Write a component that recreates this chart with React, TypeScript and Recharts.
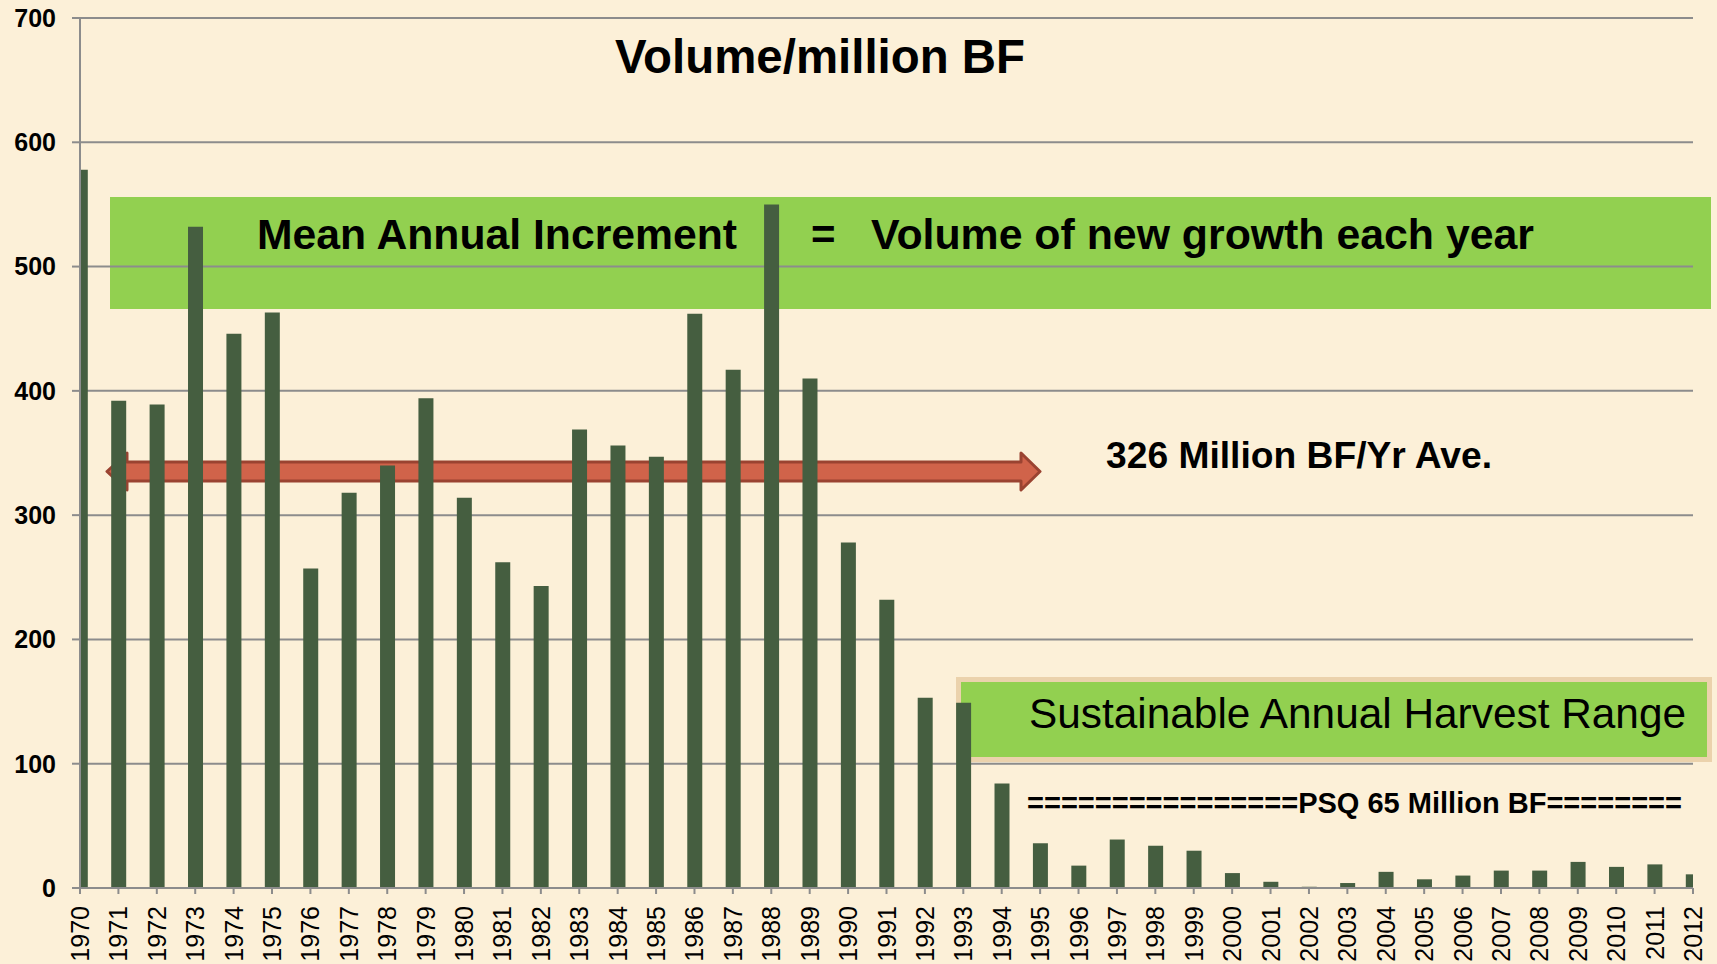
import React from "react";
import { BarChart, Bar, XAxis, YAxis, CartesianGrid } from "recharts";

const years = [
  1970, 1971, 1972, 1973, 1974, 1975, 1976, 1977, 1978, 1979, 1980, 1981,
  1982, 1983, 1984, 1985, 1986, 1987, 1988, 1989, 1990, 1991, 1992, 1993,
  1994, 1995, 1996, 1997, 1998, 1999, 2000, 2001, 2002, 2003, 2004, 2005,
  2006, 2007, 2008, 2009, 2010, 2011, 2012,
];

// volume cut per year, million BF
const volumes = [
  578, 392, 389, 532, 446, 463, 257, 318, 340, 394, 314, 262, 243, 369, 356,
  347, 462, 417, 550, 410, 278, 232, 153, 149, 84, 36, 18, 39, 34, 30, 12, 5,
  1, 4, 13, 7, 10, 14, 14, 21, 17, 19, 11,
];

const yTicks = [0, 100, 200, 300, 400, 500, 600, 700];

const title = "Volume/million BF";
const maiLeft = "Mean Annual Increment";
const maiRight = "Volume of new growth each year";
const aveLabel = "326 Million BF/Yr Ave.";
const harvestLabel = "Sustainable Annual Harvest Range";
const psqLabel = "================PSQ 65 Million BF========";

const data = years.map((year, i) => ({ year, volume: volumes[i] }));

const FONT = "'Liberation Sans', Arial, Helvetica, sans-serif";
const GRID = "#8c8c8c";
const BAR = "#455e40";
const GREEN = "#92d050";

const YearTick = (props: any) => {
  const { x, y, payload } = props;
  return (
    <text
      x={x}
      y={y}
      transform={`rotate(-90, ${x}, ${y})`}
      textAnchor="end"
      dy="0.36em"
      fontSize={25}
      fontFamily={FONT}
      fill="#000"
    >
      {payload.value}
    </text>
  );
};

export default function App() {
  return (
    <div
      style={{
        position: "absolute",
        left: 0,
        top: 0,
        width: 1717,
        height: 964,
        overflow: "hidden",
        background: "#fcf0d8",
        fontFamily: FONT,
      }}
    >
      {/* shapes behind the bars */}
      <svg
        width={1717}
        height={964}
        style={{ position: "absolute", left: 0, top: 0 }}
      >
        <rect x={110} y={197} width={1601} height={112} fill={GREEN} />
        <rect
          x={958.5}
          y={679.5}
          width={751}
          height={80}
          fill={GREEN}
          stroke="#ebd2ac"
          strokeWidth={5}
        />
        <polygon
          points="107,471.5 127,453 127,462 1021,462 1021,453 1040,471.5 1021,490 1021,481 127,481 127,490"
          fill="#d0634a"
          stroke="#9a4331"
          strokeWidth={3}
          strokeLinejoin="round"
        />
      </svg>

      <BarChart
        width={1717}
        height={964}
        data={data}
        margin={{ top: 18, right: 24, bottom: 0, left: 0 }}
        style={{ position: "absolute", left: 0, top: 0 }}
      >
        <CartesianGrid vertical={false} stroke={GRID} strokeWidth={2} />
        <XAxis
          dataKey="year"
          type="number"
          domain={[1970, 2012]}
          ticks={years}
          interval={0}
          allowDataOverflow
          height={76}
          tickSize={6}
          tickMargin={12}
          axisLine={{ stroke: GRID, strokeWidth: 2 }}
          tickLine={{ stroke: GRID, strokeWidth: 2 }}
          tick={<YearTick />}
        />
        <YAxis
          domain={[0, 700]}
          ticks={yTicks}
          interval={0}
          width={80}
          tickSize={8}
          tickMargin={16}
          axisLine={{ stroke: GRID, strokeWidth: 2 }}
          tickLine={{ stroke: GRID, strokeWidth: 2 }}
          tick={{
            fontSize: 25,
            fontWeight: "bold",
            fill: "#000",
            fontFamily: FONT,
          }}
        />
        <Bar
          dataKey="volume"
          fill={BAR}
          barSize={15}
          isAnimationActive={false}
        />
      </BarChart>

      {/* text annotations */}
      <svg
        width={1717}
        height={964}
        style={{ position: "absolute", left: 0, top: 0, pointerEvents: "none" }}
        fontFamily={FONT}
      >
        <text
          x={615}
          y={72.5}
          fontSize={48}
          fontWeight="bold"
          textLength={410}
          lengthAdjust="spacingAndGlyphs"
        >
          {title}
        </text>
        <text
          x={257}
          y={249}
          fontSize={42}
          fontWeight="bold"
          textLength={480}
          lengthAdjust="spacingAndGlyphs"
        >
          {maiLeft}
        </text>
        <text x={811} y={249} fontSize={42} fontWeight="bold">
          =
        </text>
        <text
          x={871}
          y={249}
          fontSize={42}
          fontWeight="bold"
          textLength={663}
          lengthAdjust="spacingAndGlyphs"
        >
          {maiRight}
        </text>
        <text
          x={1106}
          y={468}
          fontSize={37}
          fontWeight="bold"
          textLength={386}
          lengthAdjust="spacingAndGlyphs"
        >
          {aveLabel}
        </text>
        <text
          x={1029}
          y={728}
          fontSize={42}
          textLength={657}
          lengthAdjust="spacingAndGlyphs"
        >
          {harvestLabel}
        </text>
        <text
          x={1027}
          y={813}
          fontSize={29}
          fontWeight="bold"
          textLength={655}
          lengthAdjust="spacingAndGlyphs"
        >
          {psqLabel}
        </text>
      </svg>
    </div>
  );
}
